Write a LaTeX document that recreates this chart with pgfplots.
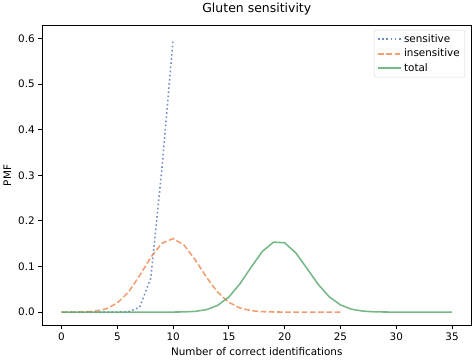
\documentclass[border=0pt]{standalone}
\usepackage{pgfplots}
\pgfplotsset{compat=1.18}
\usepackage{fontspec}
\setmainfont{DejaVu Sans}
\definecolor{sblue}{HTML}{4C72B0}
\definecolor{sorange}{HTML}{EE8650}
\definecolor{sgreen}{HTML}{55A868}
\begin{document}
\begin{tikzpicture}
\begin{axis}[
  scale only axis,
  width=412bp, height=288bp,
  xmin=-1.75, xmax=36.75,
  ymin=-0.0299, ymax=0.6287,
  xtick={0,5,10,15,20,25,30,35},
  ytick={0,0.1,0.2,0.3,0.4,0.5,0.6},
  yticklabel style={/pgf/number format/fixed,/pgf/number format/precision=1,/pgf/number format/fixed zerofill},
  /pgf/number format/assume math mode=true,
  tick align=outside,
  xtick pos=bottom, ytick pos=left,
  major tick length=3.5bp,
  tick style={black, line width=0.8bp},
  axis line style={line width=0.8bp},
  ticklabel style={font=\fontsize{10}{12}\selectfont},
  label style={font=\fontsize{10}{12}\selectfont},
  title style={font=\fontsize{12}{14}\selectfont},
  title={Gluten sensitivity},
  xlabel={Number of correct identifications},
  ylabel={PMF},
  legend style={font=\fontsize{10}{12}\selectfont, draw=black!15, rounded corners=2bp, fill=white, row sep=1bp, at={(0.985,0.985)}, anchor=north east},
  legend cell align=left,
  legend image code/.code={\draw[#1, line width=1.8bp] (0bp,0bp) -- (22bp,0bp);},
  every axis plot/.append style={line width=1.5bp, opacity=0.8},
]
\addplot[sblue, dash pattern=on 1.5bp off 2.5bp] coordinates {
(0,0) (1,0) (2,0) (3,0.0000001) (4,0.0000027) (5,0.0000609) (6,0.000965) (7,0.010475) (8,0.074635) (9,0.315125) (10,0.598737)
};
\addlegendentry{sensitive}
\addplot[sorange, dash pattern=on 5.5bp off 2.4bp] coordinates {
(0,0.0000028) (1,0.0000474) (2,0.000379) (3,0.001937) (4,0.007104) (5,0.01989) (6,0.04420) (7,0.07998) (8,0.11997) (9,0.15108) (10,0.16115) (11,0.14650) (12,0.11395) (13,0.07597) (14,0.04341) (15,0.02122) (16,0.008842) (17,0.003121) (18,0.000925) (19,0.000227) (20,0.0000454) (21,0.0000072) (22,0.0000009) (23,0) (24,0) (25,0)
};
\addlegendentry{insensitive}
\addplot[sgreen, solid] coordinates {
(0,0) (1,0) (2,0) (3,0) (4,0) (5,0) (6,0) (7,0.0000001) (8,0.0000012) (9,0.0000107) (10,0.000073) (11,0.000389) (12,0.001624) (13,0.00543) (14,0.01478) (15,0.03322) (16,0.06237) (17,0.09880) (18,0.13312) (19,0.15344) (20,0.15200) (21,0.12977) (22,0.09564) (23,0.06085) (24,0.03337) (25,0.01573) (26,0.006349) (27,0.002177) (28,0.000629) (29,0.000151) (30,0.0000295) (31,0.0000046) (32,0.0000005) (33,0) (34,0) (35,0)
};
\addlegendentry{total}
\end{axis}
\end{tikzpicture}
\end{document}
